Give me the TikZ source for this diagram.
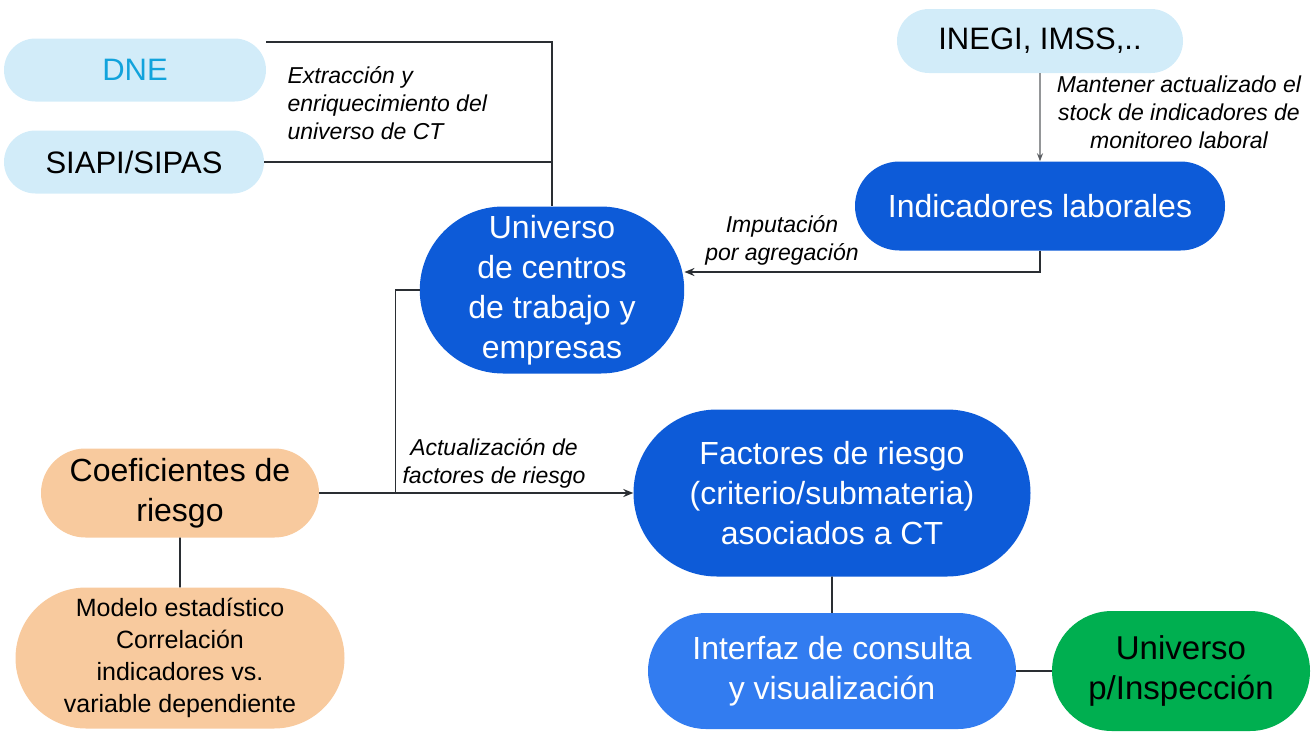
\documentclass[tikz,border=0pt]{standalone}
\usepackage{fontspec}
\setmainfont{Liberation Sans}
\usetikzlibrary{shapes.misc,arrows.meta}

\definecolor{srcfill}{HTML}{D2ECF9}
\definecolor{dnetext}{HTML}{12A3DC}
\definecolor{mainblue}{HTML}{0D5BD8}
\definecolor{uiblue}{HTML}{327CF0}
\definecolor{inspgreen}{HTML}{00AF50}
\definecolor{coefpeach}{HTML}{F8CA9E}
\definecolor{linedark}{HTML}{2A2E33}
\definecolor{linegray}{HTML}{5A5D61}

\tikzset{
  blob/.style={rounded rectangle, inner sep=2pt, align=center,
    font=\fontsize{32}{40}\selectfont},
  source/.style={blob, fill=srcfill, font=\fontsize{31}{38}\selectfont},
  process/.style={blob, fill=mainblue, text=white},
  peach/.style={blob, fill=coefpeach},
  note/.style={align=center, font=\fontsize{23}{28}\selectfont\itshape},
  link/.style={draw=linedark, line width=1.6pt},
  feed/.style={link, -{Stealth[length=10pt,width=8pt]}},
}

\begin{document}
\begin{tikzpicture}[x=1pt,y=-1pt]
  \useasboundingbox (0,0) rectangle (1315,737);

  % sources
  \node[source, text=dnetext, minimum width=266pt, minimum height=63pt] (dne) at (135,70) {DNE};
  \node[source, minimum width=264pt, minimum height=63pt] (siapi) at (134,162) {SIAPI/SIPAS};
  \node[source, minimum width=290pt, minimum height=64pt] (inegi) at (1040,41) {INEGI, IMSS,..};

  % main blocks
  \node[process, minimum width=374pt, minimum height=89pt] (indic) at (1040,206) {Indicadores laborales};
  \node[process, minimum width=264pt, minimum height=167pt] (univ) at (552,290)
    {Universo\\de centros\\de trabajo y\\empresas};
  \node[process, minimum width=401pt, minimum height=167pt] (factor) at (832,493)
    {Factores de riesgo\\(criterio/submateria)\\asociados a CT};
  \node[blob, fill=uiblue, text=white, minimum width=372pt, minimum height=116pt] (iface) at (832,671)
    {Interfaz de consulta\\y visualización};
  \node[blob, fill=inspgreen, font=\fontsize{33}{40}\selectfont, minimum width=262pt, minimum height=120pt] (insp) at (1181,671)
    {Universo\\p/Inspección};

  % risk coefficients
  \node[peach, minimum width=282pt, minimum height=89pt] (coef) at (180,493) {Coeficientes de\\riesgo};
  \node[peach, font=\fontsize{25}{32}\selectfont, minimum width=333pt, minimum height=141pt] (model) at (180,658)
    {Modelo estadístico\\Correlación\\indicadores vs.\\variable dependiente};

  % connectors
  \draw[link] ([yshift=28pt]dne.east) -| (univ.north);
  \draw[link] (siapi.east) -- (siapi.east -| univ.north);
  \draw[draw=linegray, line width=1.3pt, -{Stealth[length=8pt,width=6pt]}] (inegi) -- (indic);
  \draw[feed] (indic.south) |- ([yshift=18pt]univ.east);
  \draw[feed] (univ.west) -- ++(-24,0) |- (factor.west);
  \draw[link] (coef.east) -- ++(76,0);
  \draw[link] (coef) -- (model);
  \draw[link] (factor) -- (iface);
  \draw[link] (iface) -- (insp);

  % labels
  \node[note, align=left, anchor=west] (extr) at (284,103) {Extracción y\\enriquecimiento del\\universo de CT};
  \node[note] (keep) at (1179,112) {Mantener actualizado el\\stock de indicadores de\\monitoreo laboral};
  \node[note] (imput) at (782,240) {Imputación\\por agregación};
  \node[note] (update) at (494,463) {Actualización de\\factores de riesgo};
\end{tikzpicture}
\end{document}
